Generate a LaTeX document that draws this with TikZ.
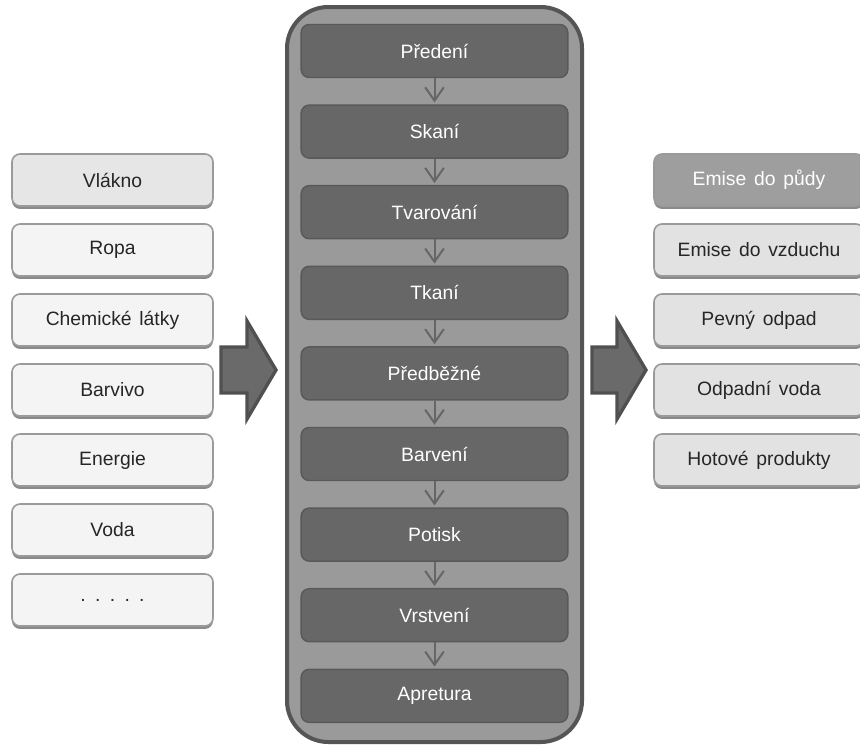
\documentclass[tikz,border=0pt]{standalone}
\usepackage{fontspec}
\setmainfont{Liberation Sans}
\usetikzlibrary{arrows.meta,shadows}
\newcommand\mywidespace{\spaceskip=0.4em plus 0.1em\relax}
\definecolor{boxline}{HTML}{9A9A9A}
\definecolor{lightfill}{HTML}{F4F4F4}
\definecolor{firstfill}{HTML}{E6E6E6}
\definecolor{rightfill}{HTML}{E2E2E2}
\definecolor{rightdark}{HTML}{9E9E9E}
\definecolor{bigfill}{HTML}{9A9A9A}
\definecolor{bigline}{HTML}{555555}
\definecolor{stepfill}{HTML}{676767}
\definecolor{stepline}{HTML}{595959}
\definecolor{arrowcol}{HTML}{666666}
\definecolor{fatfill}{HTML}{6A6A6A}
\definecolor{fatline}{HTML}{505050}
\definecolor{shadowcol}{HTML}{8A8A8A}
\tikzset{
  sidebox/.style={draw=boxline, line width=1.2pt, rounded corners=6pt,
    minimum width=150.75pt, minimum height=39pt, inner sep=0pt,
    font=\fontsize{14.5}{16}\selectfont\mywidespace, text=black!85,
    drop shadow={shadow xshift=0pt, shadow yshift=-2.2pt, fill=shadowcol, opacity=1}},
  leftbox/.style={sidebox, fill=lightfill},
  rightbox/.style={sidebox, fill=rightfill, minimum width=157.5pt},
  stepbox/.style={draw=stepline, line width=1.1pt, fill=stepfill, rounded corners=6pt,
    minimum width=200pt, minimum height=39.75pt, inner sep=0pt,
    font=\fontsize{14.5}{16}\selectfont, text=white},
  flow/.style={draw=arrowcol, line width=1.5pt, shorten >=1.5pt,
    -{Straight Barb[length=10pt,width=14pt,line width=1.5pt]}},
  fat/.style={fill=fatfill, draw=fatline, line width=2.5pt, line join=miter}
}
\begin{document}
\begin{tikzpicture}[x=0.75pt,y=-0.75pt]
\useasboundingbox (0,0) rectangle (860,747);
\clip (0,0) rectangle (860,747);
\fill[white] (0,0) rectangle (860,747);

% left inputs
\node[leftbox, fill=firstfill] (l1) at (112.5,180) {Vlákno};
\node[leftbox] (l2) at (112.5,250) {Ropa};
\node[leftbox] (l3) at (112.5,320) {Chemické látky};
\node[leftbox] (l4) at (112.5,390) {Barvivo};
\node[leftbox] (l5) at (112.5,460) {Energie};
\node[leftbox] (l6) at (112.5,530) {Voda};
\node[leftbox] (l7) at (112.5,600) {.\hspace{7pt}.\hspace{7pt}.\hspace{7pt}.\hspace{7pt}.};

% right outputs
\node[rightbox, fill=rightdark, text=white] (r1) at (759,180) {Emise do půdy};
\node[rightbox] (r2) at (759,250) {Emise do vzduchu};
\node[rightbox] (r3) at (759,320) {Pevný odpad};
\node[rightbox] (r4) at (759,390) {Odpadní voda};
\node[rightbox] (r5) at (759,460) {Hotové produkty};

% big container
\draw[fill=bigfill, draw=bigline, line width=3pt, rounded corners=31pt]
  (287,7) rectangle (582,742);

% process steps
\node[stepbox] (s1) at (434.5,51) {Předení};
\node[stepbox] (s2) at (434.5,131.6) {Skaní};
\node[stepbox] (s3) at (434.5,212.2) {Tvarování};
\node[stepbox] (s4) at (434.5,292.8) {Tkaní};
\node[stepbox] (s5) at (434.5,373.4) {Předběžné};
\node[stepbox] (s6) at (434.5,454) {Barvení};
\node[stepbox] (s7) at (434.5,534.6) {Potisk};
\node[stepbox] (s8) at (434.5,615.2) {Vrstvení};
\node[stepbox] (s9) at (434.5,695.8) {Apretura};

\foreach \a/\b in {s1/s2,s2/s3,s3/s4,s4/s5,s5/s6,s6/s7,s7/s8,s8/s9}
  \draw[flow] (\a.south) -- (\b.north);

% fat arrows
\draw[fat] (221,347) -- (247,347) -- (247,321) -- (276,370) -- (247,419)
  -- (247,393) -- (221,393) -- cycle;
\draw[fat] (592,347) -- (617,347) -- (617,321) -- (646,370) -- (617,419)
  -- (617,393) -- (592,393) -- cycle;
\end{tikzpicture}
\end{document}
